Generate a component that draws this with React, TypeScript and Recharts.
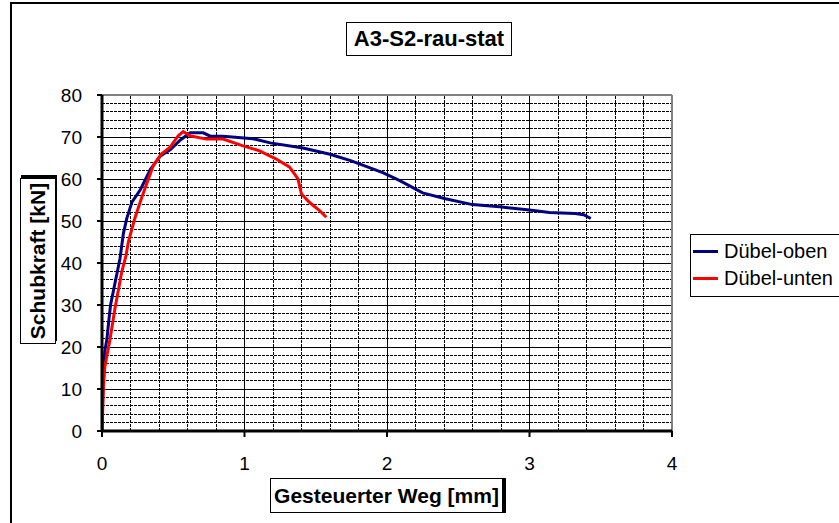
import React from 'react';
import { LineChart, Line, XAxis, YAxis, ReferenceLine } from 'recharts';

const FONT = '"Liberation Sans", Arial, sans-serif';

const titleText = 'A3-S2-rau-stat';
const xTitle = 'Gesteuerter Weg [mm]';
const yTitle = 'Schubkraft [kN]';

const xTicks = [0, 1, 2, 3, 4];
const yTicks = [0, 10, 20, 30, 40, 50, 60, 70, 80];
const xMinorGrid = [0.2, 0.4, 0.6, 0.8, 1.2, 1.4, 1.6, 1.8, 2.2, 2.4, 2.6, 2.8, 3.2, 3.4, 3.6, 3.8];
const yMinorGrid = [2, 4, 6, 8, 12, 14, 16, 18, 22, 24, 26, 28, 32, 34, 36, 38, 42, 44, 46, 48, 52, 54, 56, 58, 62, 64, 66, 68, 72, 74, 76, 78];
const xMajorGrid = [1, 2, 3];
const yMajorGrid = [10, 20, 30, 40, 50, 60, 70];
const yMinorTicks = [2, 4, 6, 8, 12, 14, 16, 18, 22, 24, 26, 28, 32, 34, 36, 38, 42, 44, 46, 48, 52, 54, 56, 58, 62, 64, 66, 68, 72, 74, 76, 78];

// Dübel-oben
const obenWeg = [0, 0.005, 0.01, 0.02, 0.035, 0.05, 0.06, 0.09, 0.126, 0.15, 0.173, 0.21, 0.27, 0.34, 0.41, 0.48, 0.55, 0.62, 0.71, 0.76, 0.85, 1.06, 1.18, 1.41, 1.6, 1.75, 1.97, 2.09, 2.25, 2.41, 2.6, 2.79, 3.0, 3.14, 3.32, 3.38, 3.43];
const obenKraft = [0, 8, 14, 19, 22, 27, 30, 35, 41, 47, 50.5, 54.5, 57.5, 62.3, 65.5, 67, 69.3, 71, 71, 70.2, 70.2, 69.6, 68.6, 67.4, 65.9, 64.3, 61.5, 59.6, 56.7, 55.3, 53.9, 53.4, 52.6, 52, 51.8, 51.5, 50.6];

// Dübel-unten
const untenWeg = [0, 0.005, 0.01, 0.02, 0.056, 0.09, 0.138, 0.168, 0.185, 0.23, 0.277, 0.36, 0.418, 0.476, 0.535, 0.57, 0.616, 0.733, 0.85, 0.99, 1.106, 1.22, 1.317, 1.375, 1.4, 1.457, 1.527, 1.574];
const untenKraft = [0, 5, 10.5, 15.3, 21.8, 29, 37.8, 41.7, 45, 50.6, 55.4, 63.2, 66, 67.5, 70.3, 71.3, 70.3, 69.5, 69.5, 67.9, 66.7, 64.8, 62.8, 60, 56.4, 54.4, 52.5, 50.9];

const series = [
  { name: 'Dübel-oben', color: '#000080', weg: obenWeg, kraft: obenKraft },
  { name: 'Dübel-unten', color: '#FF0000', weg: untenWeg, kraft: untenKraft },
];

const toPoints = (xs: number[], ys: number[]) => xs.map((x, i) => ({ x, y: ys[i] }));

export default function App() {
  const boxStyle: React.CSSProperties = {
    position: 'absolute',
    border: '1px solid #000',
    background: '#fff',
    fontFamily: FONT,
    fontWeight: 'bold',
    color: '#000',
    display: 'flex',
    alignItems: 'center',
    justifyContent: 'center',
    boxSizing: 'border-box',
    whiteSpace: 'nowrap',
  };
  return (
    <div style={{ position: 'absolute', left: 0, top: 0, width: 839, height: 523, overflow: 'hidden', background: '#fff' }}>
      <div style={{ position: 'absolute', left: 10, top: 2, width: 900, height: 600, border: '2px solid #000', boxSizing: 'border-box' }} />
      <div style={{ position: 'absolute', left: 0, top: 0 }}>
        <LineChart width={839} height={523} margin={{ top: 95, right: 167, left: 10, bottom: 52 }}>
          {yMinorGrid.map((v) => (
            <ReferenceLine key={`ym${v}`} y={v} stroke="#000" strokeWidth={1} strokeDasharray="3 1" shapeRendering="crispEdges" />
          ))}
          {xMinorGrid.map((v) => (
            <ReferenceLine key={`xm${v}`} x={v} stroke="#000" strokeWidth={1} strokeDasharray="3 1" shapeRendering="crispEdges" />
          ))}
          {yMajorGrid.map((v) => (
            <ReferenceLine key={`yM${v}`} y={v} stroke="#000" strokeWidth={1} shapeRendering="crispEdges" />
          ))}
          {xMajorGrid.map((v) => (
            <ReferenceLine key={`xM${v}`} x={v} stroke="#000" strokeWidth={1} shapeRendering="crispEdges" />
          ))}
          <ReferenceLine y={80} stroke="#808080" strokeWidth={2} />
          <ReferenceLine x={4} stroke="#808080" strokeWidth={2} />
          <XAxis
            type="number"
            dataKey="x"
            domain={[0, 4]}
            ticks={xTicks}
            allowDataOverflow
            height={40}
            tickSize={6}
            tickMargin={20}
            axisLine={{ stroke: '#000', strokeWidth: 3 }}
            tickLine={{ stroke: '#000', strokeWidth: 2 }}
            tick={{ fill: '#000', fontSize: 19, fontFamily: FONT }}
          />
          <YAxis
            type="number"
            domain={[0, 80]}
            ticks={yTicks}
            allowDataOverflow
            width={92}
            tickSize={5}
            tickMargin={15}
            axisLine={{ stroke: '#000', strokeWidth: 3 }}
            tickLine={{ stroke: '#000', strokeWidth: 2 }}
            tick={{ fill: '#000', fontSize: 19, fontFamily: FONT }}
          />
          <YAxis
            yAxisId="minor"
            type="number"
            domain={[0, 80]}
            ticks={yMinorTicks}
            mirror
            axisLine={false}
            tick={false}
            tickSize={4}
            tickLine={{ stroke: '#000', strokeWidth: 1 }}
          />
          {series.map((s) => (
            <Line
              key={s.name}
              name={s.name}
              data={toPoints(s.weg, s.kraft)}
              dataKey="y"
              type="linear"
              stroke={s.color}
              strokeWidth={3}
              dot={false}
              isAnimationActive={false}
            />
          ))}
        </LineChart>
      </div>
      <div style={{ ...boxStyle, left: 346, top: 22, width: 166, height: 34, fontSize: 22 }}>{titleText}</div>
      <div style={{ ...boxStyle, left: 270, top: 478, width: 233, height: 35, fontSize: 21, boxShadow: '3px 0 0 0 #000' }}>{xTitle}</div>
      <div
        style={{
          ...boxStyle,
          left: 38 - 83,
          top: 261 - 18,
          width: 166,
          height: 36,
          fontSize: 21,
          transform: 'rotate(-90deg)',
          boxShadow: '3px 1px 0 0 #000',
        }}
      >
        {yTitle}
      </div>
      <div
        style={{
          position: 'absolute',
          left: 690,
          top: 234,
          width: 170,
          height: 63,
          border: '1px solid #000',
          boxSizing: 'border-box',
          background: '#fff',
          fontFamily: FONT,
          fontSize: 20,
          color: '#000',
        }}
      >
        {series.map((s, i) => (
          <div key={s.name} style={{ position: 'absolute', left: 2, top: 4 + i * 27, height: 24, display: 'flex', alignItems: 'center', whiteSpace: 'nowrap' }}>
            <span style={{ display: 'inline-block', width: 25, height: 3, background: s.color, marginRight: 6 }} />
            {s.name}
          </div>
        ))}
      </div>
    </div>
  );
}
